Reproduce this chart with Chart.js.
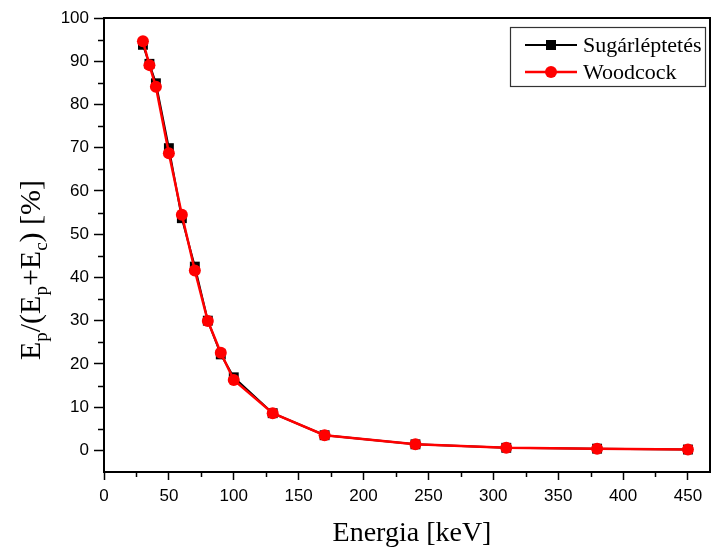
<!DOCTYPE html>
<html>
<head>
<meta charset="utf-8">
<script src="https://cdn.jsdelivr.net/npm/chart.js@4/dist/chart.umd.min.js"></script>
<style>
  body { margin: 0; background: #fff; }
  canvas { display: block; }
</style>
</head>
<body>
<canvas id="chart" width="713" height="552"></canvas>
<script>
'use strict';

// energies [keV]
const energy = [30, 35, 40, 50, 60, 70, 80, 90, 100, 130, 170, 240, 310, 380, 450]
// E_p/(E_p+E_c) [%]
const sugarValues = [93.8, 89.4, 84.9, 69.9, 53.7, 42.5, 30.0, 22.2, 16.9, 8.6, 3.5, 1.4, 0.6, 0.4, 0.2]
const woodcockValues = [94.6, 89.1, 84.1, 68.7, 54.5, 41.6, 29.9, 22.6, 16.3, 8.6, 3.5, 1.4, 0.6, 0.4, 0.2]

const seriesNames = ['Sugárléptetés', 'Woodcock']
const xTicks = [0, 50, 100, 150, 200, 250, 300, 350, 400, 450]
const yTicks = [0, 10, 20, 30, 40, 50, 60, 70, 80, 90, 100]
const xMinor = [25, 75, 125, 175, 225, 275, 325, 375, 425]
const yMinor = [5, 15, 25, 35, 45, 55, 65, 75, 85, 95]
const xTitle = 'Energia [keV]'

const serif = '"Liberation Serif", "Times New Roman", serif'
const sans = '"Liberation Sans", Arial, sans-serif'

function toPoints(xs, ys) {
    return xs.map((x, i) => ({ x: x, y: ys[i] }))
}

// frame, minor ticks, axis titles and legend box
const decorations = {
    id: 'decorations',
    afterDraw(chart) {
        const ctx = chart.ctx
        const a = chart.chartArea
        const xs = chart.scales.x
        const ys = chart.scales.y
        ctx.save()
        ctx.strokeStyle = '#000'
        ctx.lineWidth = 2
        ctx.strokeRect(a.left, a.top, a.right - a.left, a.bottom - a.top)

        ctx.lineWidth = 1.5
        ctx.beginPath()
        xMinor.forEach(v => {
            const px = Math.round(xs.getPixelForValue(v)) + 0.5
            ctx.moveTo(px, a.bottom)
            ctx.lineTo(px, a.bottom + 5)
        })
        yMinor.forEach(v => {
            const py = Math.round(ys.getPixelForValue(v)) + 0.5
            ctx.moveTo(a.left, py)
            ctx.lineTo(a.left - 6, py)
        })
        ctx.stroke()

        // x title
        ctx.fillStyle = '#000'
        ctx.font = '28px ' + serif
        ctx.textAlign = 'center'
        ctx.textBaseline = 'alphabetic'
        ctx.fillText(xTitle, 412, 541)

        // y title with subscripts
        const parts = [
            ['E', false], ['p', true], ['/(E', false], ['p', true],
            ['+E', false], ['c', true], [') [%]', false]
        ]
        const big = '30px ' + serif
        const small = '19px ' + serif
        let total = 0
        parts.forEach(p => {
            ctx.font = p[1] ? small : big
            total += ctx.measureText(p[0]).width
        })
        ctx.translate(40, 270)
        ctx.rotate(-Math.PI / 2)
        ctx.textAlign = 'left'
        let pos = -total / 2
        parts.forEach(p => {
            ctx.font = p[1] ? small : big
            ctx.fillText(p[0], pos, p[1] ? 7 : 0)
            pos += ctx.measureText(p[0]).width
        })
        ctx.setTransform(1, 0, 0, 1, 0, 0)

        // legend
        ctx.lineWidth = 1.2
        ctx.strokeStyle = '#333'
        ctx.strokeRect(510.5, 27.5, 195, 59)
        const rows = [45, 72]
        const sets = chart.data.datasets
        seriesNames.forEach((name, i) => {
            const ds = sets.find(d => d.label === name)
            const y = rows[i]
            ctx.strokeStyle = ds.borderColor
            ctx.lineWidth = ds.borderWidth
            ctx.beginPath()
            ctx.moveTo(525, y)
            ctx.lineTo(577, y)
            ctx.stroke()
            ctx.fillStyle = ds.pointBackgroundColor
            if (ds.pointStyle === 'rect') {
                ctx.fillRect(546, y - 5, 10, 10)
            } else {
                ctx.beginPath()
                ctx.arc(551, y, 6, 0, Math.PI * 2)
                ctx.fill()
            }
            ctx.fillStyle = '#000'
            ctx.font = '22px ' + serif
            ctx.textAlign = 'left'
            ctx.textBaseline = 'middle'
            ctx.fillText(name, 583, y + 1)
        })
        ctx.restore()
    }
}

function renderChart() {
    const data = {
        datasets: [
            {
                label: seriesNames[0],
                data: toPoints(energy, sugarValues),
                showLine: true,
                borderColor: '#000',
                borderWidth: 2,
                pointStyle: 'rect',
                pointRadius: 7,
                pointBackgroundColor: '#000',
                pointBorderWidth: 0,
                order: 1,
            },
            {
                label: seriesNames[1],
                data: toPoints(energy, woodcockValues),
                showLine: true,
                borderColor: '#ff0000',
                borderWidth: 2.5,
                pointStyle: 'circle',
                pointRadius: 6,
                pointBackgroundColor: '#ff0000',
                pointBorderWidth: 0,
                order: 0,
            },
        ]
    }

    const config = {
        type: 'scatter',
        data: data,
        options: {
            responsive: false,
            animation: false,
            devicePixelRatio: 1,
            layout: { autoPadding: false, padding: { top: 18, right: 3, left: 0, bottom: 0 } },
            plugins: {
                legend: { display: false },
                tooltip: { enabled: false },
            },
            scales: {
                x: {
                    type: 'linear',
                    min: 0,
                    max: 467,
                    afterBuildTicks: s => { s.ticks = xTicks.map(v => ({ value: v })) },
                    afterFit: s => { s.height = 80 },
                    grid: { drawOnChartArea: false, color: '#000', tickLength: 8, tickWidth: 1.5 },
                    border: { display: true, color: '#000', width: 2 },
                    ticks: { color: '#000', font: { family: sans, size: 17 }, padding: 6, maxRotation: 0 },
                },
                y: {
                    type: 'linear',
                    min: -5,
                    max: 100,
                    afterBuildTicks: s => { s.ticks = yTicks.map(v => ({ value: v })) },
                    afterFit: s => { s.width = 104 },
                    grid: { drawOnChartArea: false, color: '#000', tickLength: 10, tickWidth: 1.5 },
                    border: { display: true, color: '#000', width: 2 },
                    ticks: { color: '#000', font: { family: sans, size: 17 }, padding: 5 },
                },
            },
        },
        plugins: [decorations],
    }

    new Chart(document.getElementById('chart'), config)
}

renderChart();
</script>
</body>
</html>
